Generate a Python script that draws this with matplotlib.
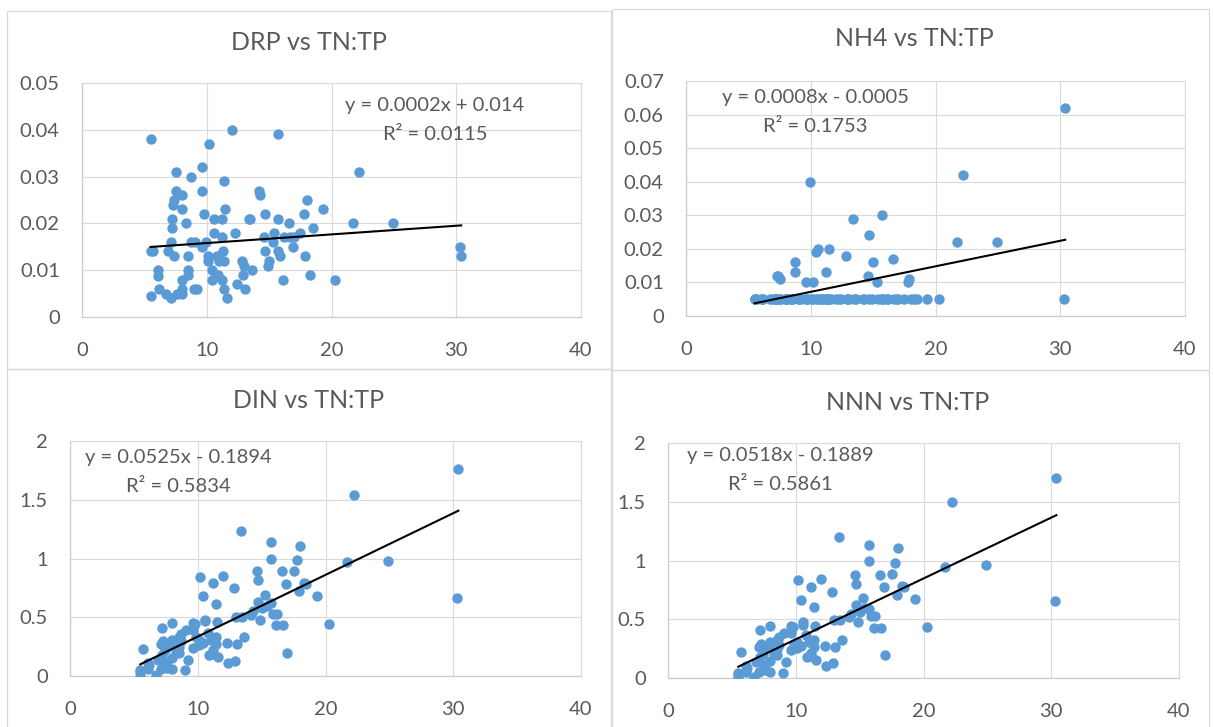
import matplotlib.pyplot as plt
from matplotlib.patches import Rectangle
from matplotlib.ticker import FuncFormatter, MultipleLocator

# TN:TP ratio for each sample (shared x of all four charts)
tn_tp = [5.5, 5.5, 5.5, 5.7, 6.1, 6.1, 6.2, 6.7, 6.9, 7.1,
         7.1, 7.2, 7.2, 7.3, 7.4, 7.5, 7.5, 7.4, 7.6, 8.0,
         8.0, 8.3, 8.0, 8.0, 8.0, 8.5, 8.5, 8.5, 8.7, 8.7,
         9.0, 9.2, 9.05, 9.6, 9.6, 9.8, 9.6, 9.9, 10.2, 10.1,
         10.1, 10.4, 10.4, 10.6, 10.6, 10.8, 10.9, 11.0, 11.2, 11.2,
         11.3, 11.4, 11.4, 11.5, 11.4, 11.6, 11.2, 12.0, 12.3, 12.4,
         12.8, 12.9, 13.0, 13.1, 13.4, 13.5, 13.6, 14.2, 14.3, 14.6,
         14.7, 14.7, 14.9, 15.0, 15.3, 15.4, 15.7, 15.7, 15.7, 15.9,
         16.1, 16.2, 16.6, 16.7, 16.9, 17.0, 17.5, 17.8, 17.9, 18.0,
         18.3, 18.5, 19.3, 20.3, 21.7, 22.2, 24.9, 30.3, 30.4]

drp = [0.038, 0.014, 0.0044, 0.014, 0.010, 0.0087, 0.006, 0.005, 0.014, 0.004,
       0.016, 0.019, 0.021, 0.024, 0.025, 0.027, 0.031, 0.013, 0.005, 0.026,
       0.023, 0.020, 0.008, 0.006, 0.005, 0.013, 0.010, 0.009, 0.030, 0.016,
       0.006, 0.006, 0.016, 0.032, 0.027, 0.022, 0.015, 0.016, 0.037, 0.013,
       0.012, 0.008, 0.010, 0.021, 0.018, 0.013, 0.009, 0.012, 0.021, 0.017,
       0.014, 0.012, 0.029, 0.023, 0.006, 0.004, 0.008, 0.040, 0.018, 0.007,
       0.012, 0.009, 0.011, 0.006, 0.021, 0.021, 0.010, 0.027, 0.026, 0.017,
       0.014, 0.022, 0.011, 0.012, 0.016, 0.018, 0.021, 0.039, 0.014, 0.013,
       0.008, 0.017, 0.020, 0.017, 0.015, 0.017, 0.018, 0.022, 0.013, 0.025,
       0.009, 0.019, 0.023, 0.008, 0.020, 0.031, 0.020, 0.015, 0.013]

nh4 = [0.005, 0.005, 0.005, 0.005, 0.005, 0.005, 0.005, 0.005, 0.005, 0.005,
       0.005, 0.005, 0.005, 0.012, 0.012, 0.011, 0.005, 0.005, 0.005, 0.005,
       0.005, 0.005, 0.005, 0.005, 0.005, 0.005, 0.005, 0.005, 0.013, 0.016,
       0.005, 0.005, 0.005, 0.005, 0.010, 0.005, 0.005, 0.040, 0.010, 0.005,
       0.005, 0.019, 0.005, 0.020, 0.005, 0.005, 0.005, 0.005, 0.013, 0.005,
       0.005, 0.005, 0.005, 0.020, 0.005, 0.005, 0.005, 0.005, 0.005, 0.005,
       0.018, 0.005, 0.005, 0.005, 0.029, 0.005, 0.005, 0.005, 0.005, 0.012,
       0.005, 0.024, 0.005, 0.016, 0.010, 0.005, 0.005, 0.005, 0.030, 0.005,
       0.005, 0.005, 0.017, 0.005, 0.005, 0.005, 0.005, 0.010, 0.011, 0.005,
       0.005, 0.005, 0.005, 0.005, 0.022, 0.042, 0.022, 0.005, 0.062]

din = [0.05, 0.00, 0.03, 0.23, 0.11, 0.06, 0.09, 0.01, 0.14, 0.06,
       0.27, 0.41, 0.18, 0.30, 0.22, 0.12, 0.09, 0.25, 0.07, 0.45,
       0.31, 0.21, 0.06, 0.15, 0.28, 0.20, 0.33, 0.25, 0.36, 0.30,
       0.05, 0.14, 0.39, 0.24, 0.45, 0.44, 0.39, 0.33, 0.84, 0.26,
       0.31, 0.68, 0.28, 0.47, 0.48, 0.37, 0.18, 0.31, 0.79, 0.22,
       0.30, 0.27, 0.61, 0.46, 0.33, 0.16, 0.19, 0.85, 0.28, 0.11,
       0.75, 0.13, 0.50, 0.27, 1.23, 0.50, 0.33, 0.52, 0.55, 0.89,
       0.63, 0.82, 0.48, 0.58, 0.69, 0.60, 1.14, 1.00, 0.62, 0.53,
       0.43, 0.53, 0.89, 0.43, 0.78, 0.20, 0.89, 0.99, 0.72, 1.11,
       0.79, 0.78, 0.68, 0.44, 0.97, 1.54, 0.98, 0.66, 1.76]

nnn = [0.045, 0.0, 0.025, 0.225, 0.105, 0.055, 0.085, 0.005, 0.135, 0.055,
       0.265, 0.405, 0.175, 0.288, 0.208, 0.109, 0.085, 0.245, 0.065, 0.445,
       0.305, 0.205, 0.055, 0.145, 0.275, 0.195, 0.325, 0.245, 0.347, 0.284,
       0.045, 0.135, 0.385, 0.235, 0.44, 0.435, 0.385, 0.29, 0.83, 0.255,
       0.305, 0.661, 0.275, 0.45, 0.475, 0.365, 0.175, 0.305, 0.777, 0.215,
       0.295, 0.265, 0.605, 0.44, 0.325, 0.155, 0.185, 0.845, 0.275, 0.105,
       0.732, 0.125, 0.495, 0.265, 1.201, 0.495, 0.325, 0.515, 0.545, 0.878,
       0.625, 0.796, 0.475, 0.564, 0.68, 0.595, 1.135, 0.995, 0.59, 0.525,
       0.425, 0.525, 0.873, 0.425, 0.775, 0.195, 0.885, 0.98, 0.709, 1.105,
       0.785, 0.775, 0.675, 0.435, 0.948, 1.498, 0.958, 0.655, 1.698]

titles = ["DRP vs TN:TP", "NH4 vs TN:TP", "DIN vs TN:TP", "NNN vs TN:TP"]
series = [drp, nh4, din, nnn]
slopes = [0.000185, 0.00076, 0.0525, 0.0518]
intercepts = [0.01395, -0.0004, -0.1894, -0.1889]
equations = ["y = 0.0002x + 0.014", "y = 0.0008x - 0.0005",
             "y = 0.0525x - 0.1894", "y = 0.0518x - 0.1889"]
r2_labels = ["R² = 0.0115", "R² = 0.1753", "R² = 0.5834", "R² = 0.5861"]
y_max = [0.05, 0.07, 2, 2]
y_step = [0.01, 0.01, 0.5, 0.5]

plt.rcParams['font.family'] = ['Lato', 'DejaVu Sans']

W, H = 1213, 727
fig = plt.figure(figsize=(W / 100, H / 100), dpi=100)

# layout in pixels
frames = [(7, 11, 604, 358), (612, 9, 597, 361), (7, 369, 604, 362), (612, 370, 597, 362)]
plots = [(82, 83, 581, 317), (686, 81, 1185, 316), (70, 441, 581, 676), (668, 443, 1179, 678)]
title_pos = [(309, 42), (914, 39), (309, 400), (908, 402)]
eq_pos = [(435, 106), (815, 97), (178, 457), (780, 455)]

grey = '#595959'
grid = '#d9d9d9'

for i in range(4):
    fx, fy, fw, fh = frames[i]
    fig.add_artist(Rectangle((fx / W, 1 - (fy + fh) / H), fw / W, fh / H,
                             transform=fig.transFigure, fill=False,
                             edgecolor=grid, linewidth=0.9))

    l, t, r, b = plots[i]
    ax = fig.add_axes([l / W, 1 - b / H, (r - l) / W, (b - t) / H])
    ax.scatter(tn_tp, series[i], s=56, color='#5b9bd5', linewidths=0, zorder=3)

    x_line = [min(tn_tp), max(tn_tp)]
    y_line = [slopes[i] * v + intercepts[i] for v in x_line]
    ax.plot(x_line, y_line, color='black', linewidth=1.5, zorder=4)

    ax.set_xlim(0, 40)
    ax.set_ylim(0, y_max[i])
    ax.xaxis.set_major_locator(MultipleLocator(10))
    ax.yaxis.set_major_locator(MultipleLocator(y_step[i]))
    ax.yaxis.set_major_formatter(FuncFormatter(lambda v, p: f'{v:g}'))
    ax.grid(True, color=grid, linewidth=0.8)
    ax.set_axisbelow(True)
    for side in ['top', 'right']:
        ax.spines[side].set_color(grid)
        ax.spines[side].set_linewidth(0.8)
    for side in ['left', 'bottom']:
        ax.spines[side].set_color('#cccccc')
        ax.spines[side].set_linewidth(0.9)
    ax.tick_params(length=0, labelsize=14.5, labelcolor=grey)
    ax.tick_params(axis='y', pad=16)
    ax.tick_params(axis='x', pad=18)

    tx, ty = title_pos[i]
    fig.text(tx / W, 1 - ty / H, titles[i], ha='center', va='center',
             fontsize=18, color=grey)
    ex, ey = eq_pos[i]
    fig.text(ex / W, 1 - ey / H, equations[i], ha='center', va='center',
             fontsize=14.5, color=grey)
    fig.text(ex / W, 1 - (ey + 29) / H, r2_labels[i], ha='center', va='center',
             fontsize=14.5, color=grey)

plt.savefig('out.png', dpi=100)
